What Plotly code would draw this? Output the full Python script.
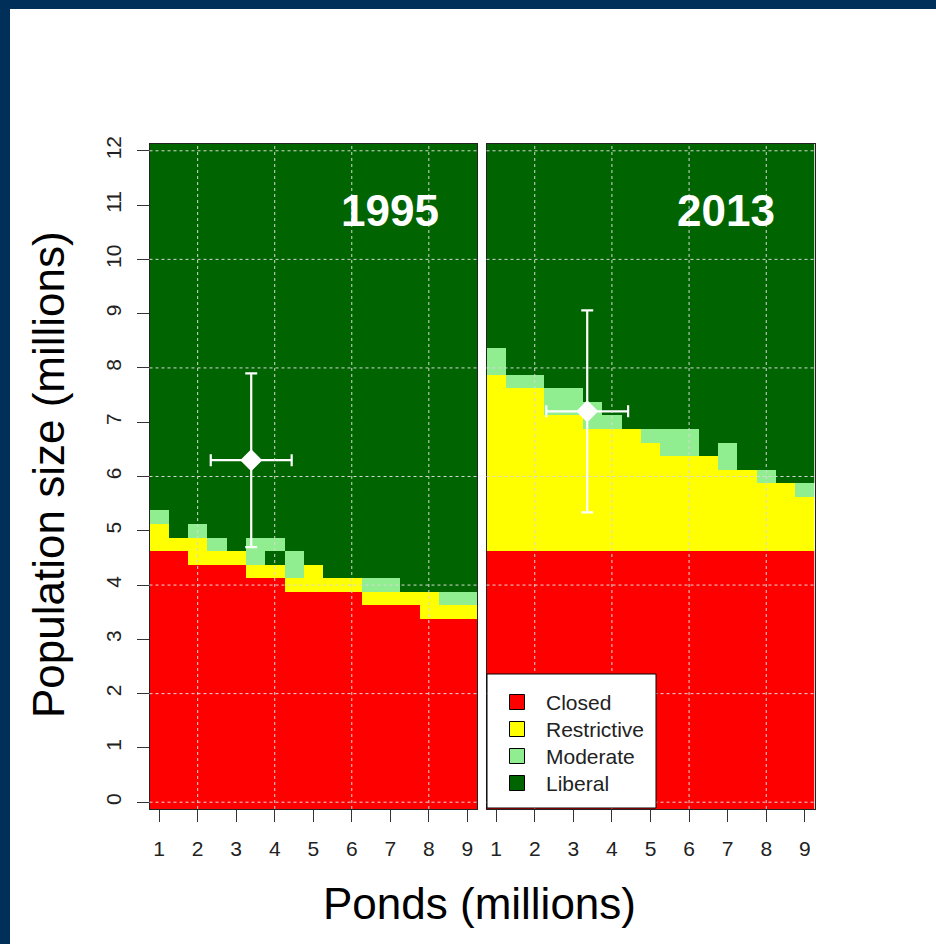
import numpy as np
import plotly.graph_objects as go

# Pond-count grid (cell centres, millions) and population grid (cell centres, millions)
ponds = [1.0, 1.5, 2.0, 2.5, 3.0, 3.5, 4.0, 4.5, 5.0, 5.5, 6.0, 6.5, 7.0, 7.5, 8.0, 8.5, 9.0]
population = [i * 0.25 for i in range(49)]

# Regulation-zone boundaries per pond column (population, millions)
closed_top_1995 = [4.625, 4.625, 4.375, 4.375, 4.375, 4.125, 4.125, 3.875, 3.875,
                   3.875, 3.875, 3.625, 3.625, 3.625, 3.375, 3.375, 3.375]
restrictive_top_1995 = [5.125, 4.875, 4.875, 4.625, 4.625, 4.375, 4.375, 4.125, 4.375,
                        4.125, 4.125, 3.875, 3.875, 3.875, 3.875, 3.625, 3.625]
moderate_low_1995 = [5.125, 4.875, 4.875, 4.625, 4.625, 4.375, 4.625, 4.125, 4.375,
                     4.125, 4.125, 3.875, 3.875, 3.875, 3.875, 3.625, 3.625]
moderate_high_1995 = [5.375, 4.875, 5.125, 4.875, 4.625, 4.875, 4.875, 4.625, 4.375,
                      4.125, 4.125, 4.125, 4.125, 3.875, 3.875, 3.875, 3.875]

closed_top_2013 = [4.625] * 17
restrictive_top_2013 = [7.875, 7.625, 7.625, 7.125, 7.125, 6.875, 6.875, 6.875, 6.625,
                        6.375, 6.375, 6.375, 6.125, 6.125, 5.875, 5.875, 5.625]
moderate_low_2013 = restrictive_top_2013
moderate_high_2013 = [8.375, 7.875, 7.875, 7.625, 7.625, 7.375, 7.125, 6.875, 6.875,
                      6.875, 6.875, 6.375, 6.625, 6.125, 6.125, 5.875, 5.875]

# Observed breeding-population and pond estimates with their spreads
obs_ponds = {"1995": 3.39, "2013": 3.36}
obs_ponds_err = {"1995": 1.05, "2013": 1.06}
obs_pop = {"1995": 6.3, "2013": 7.2}
obs_pop_err = {"1995": 1.6, "2013": 1.86}

zone_names = ["Closed", "Restrictive", "Moderate", "Liberal"]
zone_colors = ["#FF0000", "#FFFF00", "#90EE90", "#006400"]

x_ticks = [1, 2, 3, 4, 5, 6, 7, 8, 9]
y_ticks = list(range(13))
grid_x = [2, 4, 6, 8]
grid_y = [0, 2, 4, 6, 8, 10, 12]

FONT = "Arial, Liberation Sans, sans-serif"
W, H = 936, 944


def zone_grid(closed_top, restr_top, mod_lo, mod_hi):
    z = np.full((len(population), len(ponds)), 3)
    for j in range(len(ponds)):
        for i, p in enumerate(population):
            if p < closed_top[j]:
                z[i, j] = 0
            elif p < restr_top[j]:
                z[i, j] = 1
            elif mod_lo[j] <= p < mod_hi[j]:
                z[i, j] = 2
    return z


zone_scale = []
for k, c in enumerate(zone_colors):
    zone_scale += [[k / 4, c], [(k + 1) / 4, c]]

panels = [
    ("1995", "x", "y", zone_grid(closed_top_1995, restrictive_top_1995,
                                 moderate_low_1995, moderate_high_1995)),
    ("2013", "x2", "y2", zone_grid(closed_top_2013, restrictive_top_2013,
                                   moderate_low_2013, moderate_high_2013)),
]

fig = go.Figure()
for year, xa, ya, z in panels:
    fig.add_trace(go.Heatmap(
        x=ponds, y=population, z=z, zmin=-0.5, zmax=3.5,
        colorscale=zone_scale, showscale=False, xaxis=xa, yaxis=ya, hoverinfo="skip",
    ))
    fig.add_trace(go.Scatter(
        x=[obs_ponds[year]], y=[obs_pop[year]], mode="markers",
        marker=dict(symbol="diamond", size=17, color="white"),
        error_x=dict(type="data", array=[obs_ponds_err[year]], color="white",
                     thickness=2.2, width=6),
        error_y=dict(type="data", array=[obs_pop_err[year]], color="white",
                     thickness=2.2, width=6),
        xaxis=xa, yaxis=ya, showlegend=False, hoverinfo="skip",
    ))


def px_x(v):
    return v / W


def px_y(v):
    return 1 - v / H


shapes = []
annotations = []

# Dotted reference grid drawn over the zone map
for xa, ya in [("x", "y"), ("x2", "y2")]:
    for gx in grid_x:
        shapes.append(dict(type="line", xref=xa, yref=f"{ya} domain", x0=gx, x1=gx,
                           y0=0, y1=1, layer="above",
                           line=dict(color="#d8d8d8", width=1, dash="3px,3px")))
    for gy in grid_y:
        shapes.append(dict(type="line", xref=f"{xa} domain", yref=ya, x0=0, x1=1,
                           y0=gy, y1=gy, layer="above",
                           line=dict(color="#d8d8d8", width=1, dash="3px,3px")))

# Zone key in the lower-left corner of the 2013 panel
box_left, box_right, box_top, box_bottom = 487, 656, 674, 808
row_first, row_step = 702, 27
swatch_cx, swatch_half, label_left = 517, 7.5, 544
shapes.append(dict(type="rect", xref="paper", yref="paper",
                   x0=px_x(box_left), x1=px_x(box_right),
                   y0=px_y(box_bottom), y1=px_y(box_top),
                   fillcolor="white", line=dict(color="black", width=1), layer="above"))
for k, (name, col) in enumerate(zip(zone_names, zone_colors)):
    cy = row_first + k * row_step
    shapes.append(dict(type="rect", xref="paper", yref="paper",
                       x0=px_x(swatch_cx - swatch_half), x1=px_x(swatch_cx + swatch_half),
                       y0=px_y(cy + swatch_half), y1=px_y(cy - swatch_half),
                       fillcolor=col, line=dict(color="black", width=1), layer="above"))
    annotations.append(dict(text=name, x=px_x(label_left), y=px_y(cy), xref="paper",
                            yref="paper", xanchor="left", yanchor="middle", showarrow=False,
                            font=dict(family=FONT, size=21, color="#222")))

# Slide frame
shapes.append(dict(type="rect", xref="paper", yref="paper", x0=0, x1=px_x(10), y0=0, y1=1,
                   fillcolor="#00305A", line=dict(width=0), layer="above"))
shapes.append(dict(type="rect", xref="paper", yref="paper", x0=0, x1=1, y0=px_y(9), y1=1,
                   fillcolor="#00305A", line=dict(width=0), layer="above"))

axis_common = dict(
    range=[0.75, 9.25], tickvals=x_ticks, ticktext=[str(v) for v in x_ticks],
    ticks="outside", ticklen=12, tickwidth=1, tickcolor="#333", ticklabelstandoff=9,
    showline=True, mirror=True, linecolor="#222", linewidth=1,
    showgrid=False, zeroline=False, automargin=False,
    tickfont=dict(family=FONT, size=21, color="#222"), fixedrange=True,
)
yaxis_common = dict(
    range=[-0.125, 12.125], showline=True, mirror=True, linecolor="#222", linewidth=1,
    showgrid=False, zeroline=False, automargin=False,
    domain=[px_y(809), px_y(144)], fixedrange=True,
)

annotations += [
    dict(text="<b>1995</b>", x=7.0, y=10.9, xref="x", yref="y", showarrow=False,
         font=dict(family=FONT, size=44, color="white")),
    dict(text="<b>2013</b>", x=6.96, y=10.9, xref="x2", yref="y2", showarrow=False,
         font=dict(family=FONT, size=44, color="white")),
    dict(text="Ponds (millions)", x=px_x(480), y=px_y(903), xref="paper", yref="paper",
         xanchor="center", yanchor="middle", showarrow=False,
         font=dict(family=FONT, size=44, color="black")),
    dict(text="Population size (millions)", x=px_x(48), y=px_y(475), xref="paper",
         yref="paper", xanchor="center", yanchor="middle", showarrow=False, textangle=-90,
         font=dict(family=FONT, size=44, color="black")),
]

fig.update_layout(
    width=W, height=H, margin=dict(l=0, r=0, t=0, b=0, autoexpand=False),
    paper_bgcolor="white", plot_bgcolor="white",
    xaxis=dict(domain=[px_x(149.5), px_x(477)], anchor="y", **axis_common),
    xaxis2=dict(domain=[px_x(486.5), px_x(814.5)], anchor="y2", **axis_common),
    yaxis=dict(anchor="x", tickvals=y_ticks, ticktext=[str(v) for v in y_ticks],
               ticks="outside", ticklen=12, tickwidth=1, tickcolor="#333", tickangle=-90,
               ticklabelstandoff=7,
               tickfont=dict(family=FONT, size=21, color="#222"), **yaxis_common),
    yaxis2=dict(anchor="x2", showticklabels=False, ticks="", **yaxis_common),
    shapes=shapes, annotations=annotations,
    showlegend=False,
)

fig.write_html("out.html")
